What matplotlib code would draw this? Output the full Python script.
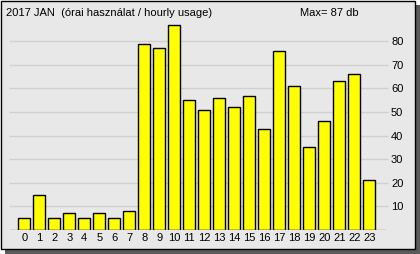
import matplotlib
matplotlib.use('Agg')
import matplotlib.pyplot as plt
from matplotlib.patches import Rectangle

plt.rcParams['font.family'] = ['Liberation Sans', 'DejaVu Sans']

hours = list(range(24))
usage = [5, 15, 5, 7, 5, 7, 5, 8, 79, 77, 87, 55, 51, 56, 52, 57, 43, 76, 61, 35, 46, 63, 66, 21]
yticks = [10, 20, 30, 40, 50, 60, 70, 80]
title = "2017 JAN  (órai használat / hourly usage)"
max_label = "Max= %d db" % max(usage)

W, H = 420, 254
fig = plt.figure(figsize=(W / 100, H / 100), dpi=100)
fig.patch.set_facecolor('white')

def px(x, y):
    # pixel coords (top-left origin) -> figure fraction
    return x / W, 1 - y / H

# drop shadow and panel frame
fig.patches.append(Rectangle(px(5, 254), 415 / W, 249 / H, transform=fig.transFigure,
                             facecolor='#5a5a5a', edgecolor='none', zorder=0))
fig.patches.append(Rectangle(px(1, 249), 414 / W, 248 / H, transform=fig.transFigure,
                             facecolor='#e8e8e8', edgecolor='black', linewidth=1, zorder=1))

l, b = px(10, 230)
ax = fig.add_axes([l, b, 376 / W, 210 / H])
ax.set_facecolor('none')
ax.set_zorder(2)

ax.hlines(yticks, -1.0, 24.23, colors='#d0d0d0', linewidth=1, clip_on=False, zorder=1)
ax.bar(hours, usage, width=0.8, color='#ffff00', edgecolor='black', linewidth=1, zorder=3)
ax.axhline(0, color='#808080', linewidth=1, zorder=4)

ax.set_xlim(-0.95, 24.1)
ax.set_ylim(0, 89)
for s in ax.spines.values():
    s.set_visible(False)

ax.set_xticks(hours)
ax.set_xticklabels([str(h) for h in hours])
ax.yaxis.tick_right()
ax.set_yticks(yticks)
ax.tick_params(axis='both', length=0, labelsize=8, colors='black')
ax.tick_params(axis='x', pad=2)
ax.tick_params(axis='y', pad=3.6)

tx, ty = px(6, 13)
fig.text(tx, ty, title, fontsize=8, va='center', ha='left')
mx, my = px(300, 13)
fig.text(mx, my, max_label, fontsize=8, va='center', ha='left')

fig.savefig('out.png', dpi=100, facecolor=fig.get_facecolor())
